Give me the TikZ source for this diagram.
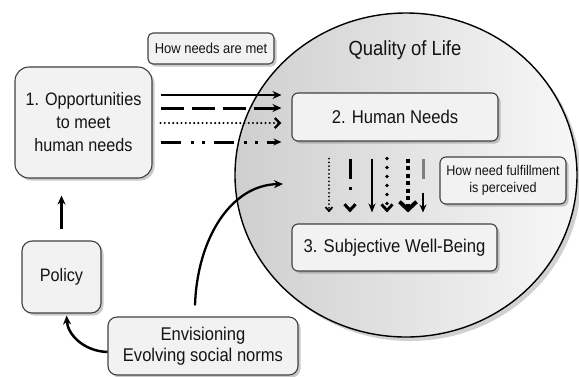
\documentclass[tikz,border=0pt]{standalone}
\usepackage{fontspec}
\setmainfont[FakeStretch=0.9]{Liberation Sans}
\usetikzlibrary{arrows.meta,shadows}
\begin{document}
\begin{tikzpicture}[x=1pt,y=-1pt,
  box/.style={draw=black!75, line width=1.1pt, fill=black!5, rounded corners=#1,
    align=center, inner sep=0pt, text=black!92,
    drop shadow={shadow xshift=2.5pt, shadow yshift=-2.5pt, opacity=.35, fill=black!60}},
  box/.default=6pt,
  bigfont/.style={font=\fontsize{18}{23}\selectfont},
  smallfont/.style={font=\fontsize{14}{17}\selectfont},
  conn/.style={draw=black},
  hsolid/.style={conn, line width=2.6pt, -{Stealth[length=9pt,width=8pt]}, shorten <=8pt, shorten >=10pt},
  hdash/.style={conn, line width=3pt, dash pattern=on 23pt off 8pt, -{Stealth[length=9pt,width=8pt]}, shorten <=8pt, shorten >=10pt},
  hdot/.style={conn, line width=2.3pt, line cap=round, dash pattern=on 0pt off 4.2pt, -{Straight Barb[length=5pt,width=10pt,line width=2.4pt]}, shorten <=8pt, shorten >=10pt},
  hdashdot/.style={conn, line width=3pt, dash pattern=on 20pt off 10pt on 3pt off 8pt on 3pt off 9pt, -{Stealth[length=8pt,width=7pt]}, shorten <=8pt, shorten >=10pt},
  vcommon/.style={conn, shorten <=17pt, shorten >=11pt}
]
\useasboundingbox (0,0) rectangle (579,376);

% Quality of life ellipse
\path[draw=black, line width=1.4pt, left color=black!19, right color=black!3,
  drop shadow={shadow xshift=4pt, shadow yshift=-4pt, opacity=.3, fill=black!60}]
  (406,175) ellipse [x radius=171pt, y radius=162pt];
\node[font=\fontsize{20.5}{24}\selectfont, text=black!92] (qol) at (405,50) {Quality of Life};

% nodes
\node[box=14pt, minimum width=137pt, minimum height=111pt, bigfont] (b1) at (83.5,122.5) {1. Opportunities\\to meet\\human needs};
\node[box=5pt, minimum width=126pt, minimum height=31pt, font=\fontsize{14.4}{17}\selectfont] (met) at (211,48.5) {How needs are met};
\node[box=6pt, minimum width=206pt, minimum height=48pt, font=\fontsize{18.5}{22}\selectfont] (b2) at (395,117) {2. Human Needs};
\node[box=6pt, minimum width=126pt, minimum height=47pt, smallfont] (perc) at (503,180.5) {How need fulfillment\\is perceived};
\node[box=6pt, minimum width=205pt, minimum height=47pt, font=\fontsize{18.5}{22}\selectfont] (b3) at (394.5,247.5) {3. Subjective Well-Being};
\node[box=10pt, minimum width=79pt, minimum height=72pt, bigfont] (pol) at (61.5,277) {Policy};
\node[box=9pt, minimum width=190pt, minimum height=58pt, font=\fontsize{18.4}{21}\selectfont] (env) at (203,346) {Envisioning\\Evolving social norms};

% horizontal arrows
\draw[hsolid] (b1.east |- 0,95) -- (b2.west |- 0,95);
\draw[hdash] (b1.east |- 0,108) -- (b2.west |- 0,108);
\draw[hdot] (b1.east |- 0,123) -- (b2.west |- 0,123);
\draw[hdashdot] (b1.east |- 0,142) -- (b2.west |- 0,142);

% vertical arrows
\draw[vcommon, line width=2pt, line cap=round, dash pattern=on 0pt off 3.8pt,
  -{Straight Barb[length=4pt,width=7pt,line width=1.8pt]}] (329,0 |- b2.south) -- (329,0 |- b3.north);
\draw[vcommon, line width=3pt, dash pattern=on 20pt off 8pt on 3pt off 30pt,
  -{Straight Barb[length=6pt,width=11pt,line width=3pt]}] (350,0 |- b2.south) -- (350,0 |- b3.north);
\draw[vcommon, line width=2.2pt, -{Stealth[length=9pt,width=7pt]}] (372,0 |- b2.south) -- (372,0 |- b3.north);
\draw[vcommon, line width=3.8pt, line cap=round, dash pattern=on 0pt off 9pt,
  -{Straight Barb[length=6pt,width=11pt,line width=2.8pt]}] (387,0 |- b2.south) -- (387,0 |- b3.north);
\draw[vcommon, line width=4pt, dash pattern=on 4pt off 3.5pt,
  -{Straight Barb[length=8pt,width=17pt,line width=4pt]}] (408,0 |- b2.south) -- (408,0 |- b3.north);
\draw[vcommon, draw=black!50, line width=3pt, shorten >=44pt] (423,0 |- b2.south) -- (423,0 |- b3.north);
\draw[vcommon, line width=2pt, shorten <=51pt, -{Stealth[length=8pt,width=7pt]}] (423,0 |- b2.south) -- (423,0 |- b3.north);

% policy to opportunities
\draw[conn, line width=2.5pt, shorten <=11pt, shorten >=17pt, -{Stealth[length=9pt,width=8pt]}] (pol.north) -- (pol.north |- b1.south);

% envisioning to policy
\draw[conn, line width=2.5pt, shorten >=2pt, -{Stealth[length=9pt,width=8pt]}]
  ([yshift=-6pt]env.west) .. controls +(-25,-1) and +(1,20) .. ([xshift=5pt]pol.south);

% envisioning into quality of life
\coordinate (qin) at (283,184);
\draw[conn, line width=2.3pt, -{Stealth[length=9pt,width=8pt]}]
  ([xshift=-8pt,yshift=11pt]env.north) .. controls (197,240) and (230,185) .. (qin);
\end{tikzpicture}
\end{document}
